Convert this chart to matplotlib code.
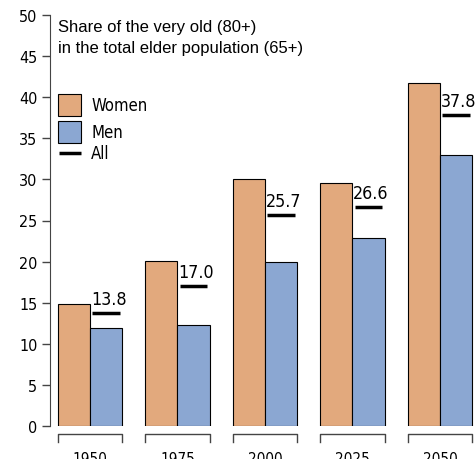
#!/usr/bin/env python3
"""very_old_share.py"""

import matplotlib
matplotlib.use("Agg")
import matplotlib.pyplot as plt
import numpy as np
from matplotlib.patches import Rectangle

years = ["1950", "1975", "2000", "2025", "2050"]
women = [14.8, 20.1, 30.0, 29.6, 41.7]
men = [11.9, 12.3, 20.0, 22.9, 33.0]
total = [13.8, 17.0, 25.7, 26.6, 37.8]

WOMEN_COLOR = "#E2A97D"
MEN_COLOR = "#8BA7D2"
NARROW = dict(family="DejaVu Sans", stretch="condensed")


def plot(fig):
    ax = fig.add_axes([50 / 475, 33 / 460, 425 / 475, 411 / 460])
    x = np.arange(len(years))
    w = 0.366
    ax.bar(x - w / 2, women, w, color=WOMEN_COLOR, edgecolor="black", linewidth=0.8)
    ax.bar(x + w / 2, men, w, color=MEN_COLOR, edgecolor="black", linewidth=0.8)

    # "All" marker sits over the men bar, with its value written above it
    for xi, v in zip(x, total):
        ax.plot([xi + 0.025, xi + w - 0.025], [v, v], color="black", lw=2.5,
                solid_capstyle="butt")
        ax.text(xi + 0.01, v + 0.6, f"{v:.1f}", fontsize=12.8, ha="left",
                va="bottom", **NARROW)

    # brackets and year labels under each pair of bars
    for xi, yr in zip(x, years):
        ax.plot([xi - w, xi - w, xi + w, xi + w], [-1.9, -1.0, -1.0, -1.9],
                color="#444444", lw=1.0, clip_on=False)
        ax.text(xi, -3.9, yr, fontsize=11, ha="center", va="center",
                clip_on=False, **NARROW)

    ax.set_xlim(-0.457, 4.4)
    ax.set_ylim(0, 50)
    ax.set_yticks(np.arange(0, 51, 5))
    for lab in ax.get_yticklabels():
        lab.set_family("DejaVu Sans")
        lab.set_stretch("condensed")
        lab.set_fontsize(11.5)
    ax.tick_params(axis="y", length=6, width=1, color="#444444", pad=3)
    ax.set_xticks([])
    for side in ["top", "right", "bottom"]:
        ax.spines[side].set_visible(False)
    ax.spines["left"].set_color("#444444")

    ax.text(0.019, 0.99, "Share of the very old (80+)\nin the total elder population (65+)",
            transform=ax.transAxes, family=["Liberation Sans", "DejaVu Sans"],
            fontsize=12, ha="left", va="top", linespacing=1.45)

    # legend drawn by hand to match the spacing of the original
    tr = ax.transAxes
    ax.add_patch(Rectangle((0.019, 0.754), 0.054, 0.054, transform=tr,
                           facecolor=WOMEN_COLOR, edgecolor="black", lw=0.8,
                           clip_on=False))
    ax.add_patch(Rectangle((0.019, 0.689), 0.054, 0.053, transform=tr,
                           facecolor=MEN_COLOR, edgecolor="black", lw=0.8,
                           clip_on=False))
    ax.plot([0.021, 0.073], [0.664, 0.664], transform=tr, color="black",
            lw=2.5, solid_capstyle="butt", clip_on=False)
    for y, lab in zip([0.781, 0.716, 0.664], ["Women", "Men", "All"]):
        ax.text(0.097, y, lab, transform=tr, fontsize=12, ha="left",
                va="center", **NARROW)


def main():
    fig = plt.figure(figsize=(4.75, 4.6), dpi=100)
    plot(fig)
    fig.savefig("out.png", dpi=100)


if __name__ == "__main__":
    main()
